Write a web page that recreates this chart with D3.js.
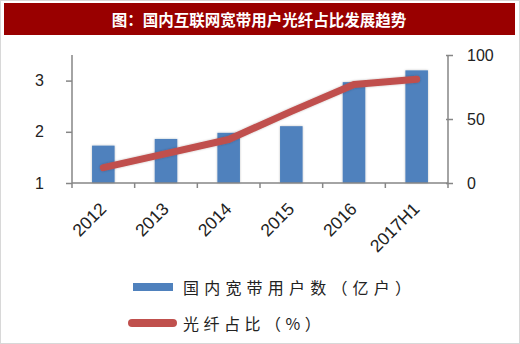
<!DOCTYPE html>
<html>
<head>
<meta charset="utf-8">
<script src="https://cdn.jsdelivr.net/npm/d3@7/dist/d3.min.js"></script>
<style>
  html, body { margin: 0; padding: 0; background: #fff; }
  svg { display: block; }
</style>
</head>
<body>
<svg id="chart" width="520" height="344"></svg>
<script>
// Broadband users (hundred millions) and fibre share (%) by period
const categories = ["2012", "2013", "2014", "2015", "2016", "2017H1"];
const users = [1.73, 1.86, 1.98, 2.11, 2.97, 3.20];
const fiberShare = [12, 23, 34, 56, 77, 81];
const leftTicks = [1, 2, 3];
const rightTicks = [0, 50, 100];

const title = "图：国内互联网宽带用户光纤占比发展趋势";
const legendBar = "国内宽带用户数（亿户）";
const legendLine = "光纤占比（%）";

const svg = d3.select("#chart");
const W = 520, H = 344;
const plot = { left: 72, right: 448, top: 55, bottom: 183 };

// faint outer frame
svg.append("rect").attr("x", 0.5).attr("y", 0.5).attr("width", W - 1).attr("height", H - 1)
  .attr("fill", "#fff").attr("stroke", "#d8d8d8");

// title banner
svg.append("rect").attr("x", 4).attr("y", 3).attr("width", 511).attr("height", 32).attr("fill", "#990000");
svg.append("text").attr("x", 259).attr("y", 19).attr("text-anchor", "middle")
  .attr("dominant-baseline", "central")
  .attr("fill", "#fff").attr("font-family", "'Noto Sans CJK SC'").attr("font-weight", "bold")
  .attr("font-size", 15.5).text(title);

const defs = svg.append("defs");
const f = defs.append("filter").attr("id", "glow").attr("x", "-30%").attr("y", "-30%").attr("width", "160%").attr("height", "160%");
f.append("feDropShadow").attr("dx", 0).attr("dy", 0).attr("stdDeviation", 1.2).attr("flood-color", "#000").attr("flood-opacity", 0.25);

const x = d3.scaleBand().domain(categories).range([plot.left, plot.right]).paddingInner(0).paddingOuter(0);
const yL = d3.scaleLinear().domain([1, 3.5]).range([plot.bottom, plot.top]);
const yR = d3.scaleLinear().domain([0, 100]).range([plot.bottom, plot.top]);

const barW = x.bandwidth() * 0.36;

// bars
svg.append("g").selectAll("rect").data(categories).join("rect")
  .attr("x", d => x(d) + x.bandwidth() / 2 - barW / 2)
  .attr("y", (d, i) => yL(users[i]))
  .attr("width", barW)
  .attr("height", (d, i) => yL(1) - yL(users[i]))
  .attr("fill", "#4F81BD")
  .attr("filter", "url(#glow)");

const axisColor = "#868686";
const tickFont = "'Liberation Sans', Arial, sans-serif";

// left axis
const gL = svg.append("g").attr("transform", `translate(${plot.left},0)`)
  .call(d3.axisLeft(yL).tickValues(leftTicks).tickSize(6).tickPadding(22).tickFormat(d3.format("d")));
// right axis
const gR = svg.append("g").attr("transform", `translate(${plot.right},0)`)
  .call(d3.axisRight(yR).tickValues(rightTicks).tickSize(5).tickPadding(14).tickFormat(d3.format("d")));
[gL, gR].forEach(g => {
  g.select(".domain").attr("d", `M0,${plot.top}V${plot.bottom}`).attr("stroke", axisColor).attr("stroke-width", 1.5);
  g.selectAll(".tick line").attr("stroke", axisColor).attr("stroke-width", 1.5);
  g.selectAll(".tick text").attr("font-family", tickFont).attr("font-size", 16).attr("fill", "#222");
});
gR.selectAll(".tick line").attr("x1", -2);

// category axis with boundary ticks
const gB = svg.append("g").attr("transform", `translate(0,${plot.bottom})`);
gB.append("line").attr("x1", plot.left).attr("x2", plot.right).attr("stroke", axisColor).attr("stroke-width", 1.5);
const bounds = categories.map(d => x(d)).concat([plot.right]);
gB.selectAll("line.t").data(bounds).join("line").attr("class", "t")
  .attr("x1", d => d).attr("x2", d => d).attr("y1", 0).attr("y2", 5)
  .attr("stroke", axisColor).attr("stroke-width", 1.5);
gB.selectAll("text").data(categories).join("text")
  .attr("transform", d => `translate(${x(d) + x.bandwidth() / 2 + 4},${27}) rotate(-45)`)
  .attr("text-anchor", "end")
  .attr("font-family", tickFont).attr("font-size", 17.5).attr("fill", "#222")
  .text(d => d);

// fibre share line
const line = d3.line()
  .x((d, i) => x(categories[i]) + x.bandwidth() / 2)
  .y(d => yR(d));
svg.append("path").datum(fiberShare).attr("d", line)
  .attr("fill", "none").attr("stroke", "#C0504D").attr("stroke-width", 7)
  .attr("stroke-linecap", "round").attr("stroke-linejoin", "round")
  .attr("filter", "url(#glow)");

// legend
const legFont = "'Noto Sans CJK SC'";
svg.append("rect").attr("x", 133).attr("y", 283).attr("width", 40).attr("height", 8).attr("fill", "#4F81BD");
svg.append("text").attr("x", 183).attr("y", 287).attr("dominant-baseline", "central")
  .attr("font-family", legFont).attr("font-size", 16).attr("letter-spacing", 5.2).attr("fill", "#222")
  .text(legendBar);
svg.append("line").attr("x1", 132).attr("x2", 173).attr("y1", 323).attr("y2", 323)
  .attr("stroke", "#C0504D").attr("stroke-width", 8).attr("stroke-linecap", "round");
svg.append("text").attr("x", 183).attr("y", 323).attr("dominant-baseline", "central")
  .attr("font-family", legFont).attr("font-size", 16).attr("letter-spacing", 4.5).attr("fill", "#222")
  .text(legendLine);
</script>
</body>
</html>
